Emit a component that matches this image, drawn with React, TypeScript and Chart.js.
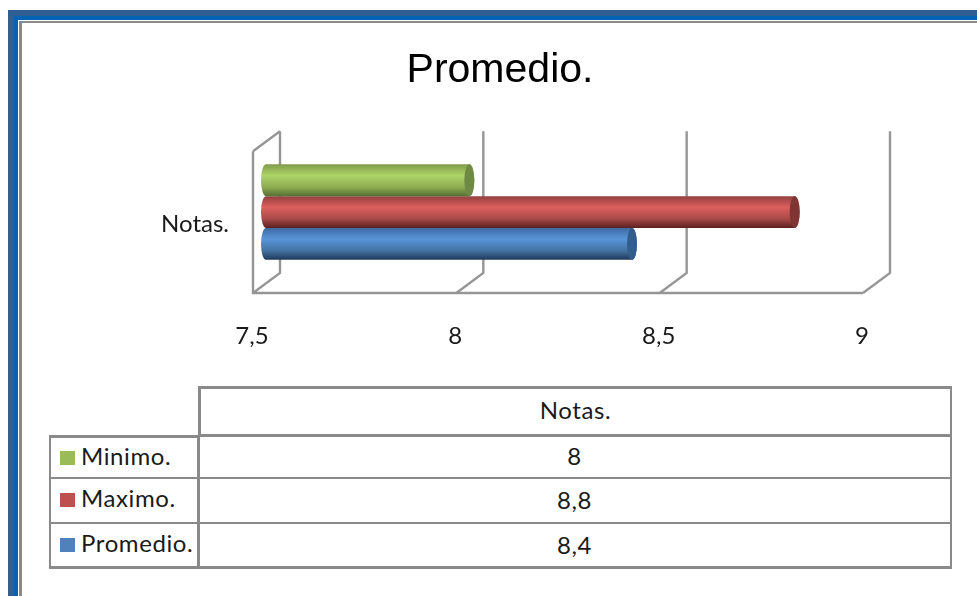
import React, { useEffect, useRef } from "react";
import { Chart, registerables } from "chart.js";

Chart.register(...registerables);

const titleText = "Promedio.";
const categories = ["Notas."];
const seriesNames = ["Minimo.", "Maximo.", "Promedio."];
const minimoValues = [8];
const maximoValues = [8.8];
const promedioValues = [8.4];
const seriesColors = ["#9bbb59", "#c0504d", "#4f81bd"];
const tickValues = [7.5, 8, 8.5, 9];

const FONT = "Lato";
const GRID = "#969696";
const fmt = (v: number) => String(v).replace(".", ",");

const shades: string[][] = [
  ["#7f9c4b", "#aed467", "#8dac50", "#566f35", "#6f8a45"],
  ["#93403e", "#dd5f5d", "#a84a48", "#5a2020", "#7f3533"],
  ["#3d6ba2", "#5a95da", "#41719f", "#20385a", "#335d8d"],
];

const DEPTH_X = 27;
const DEPTH_Y = 20;
const BAR_SHIFT = 13;
const CAP_RX = 5;

const wallsPlugin = {
  id: "walls",
  beforeDatasetsDraw(chart: any) {
    const { ctx, chartArea, scales } = chart;
    const { top, bottom } = chartArea;
    ctx.save();
    ctx.strokeStyle = GRID;
    ctx.lineWidth = 2.4;
    const left = scales.x.getPixelForValue(tickValues[0]);
    const right = scales.x.getPixelForValue(tickValues[tickValues.length - 1]);
    ctx.beginPath();
    ctx.moveTo(left, top + DEPTH_Y);
    ctx.lineTo(left, bottom);
    ctx.lineTo(right, bottom);
    ctx.moveTo(left, top + DEPTH_Y);
    ctx.lineTo(left + DEPTH_X, top);
    ctx.stroke();
    tickValues.forEach((v) => {
      const x = scales.x.getPixelForValue(v);
      ctx.beginPath();
      ctx.moveTo(x, bottom);
      ctx.lineTo(x + DEPTH_X, bottom - DEPTH_Y);
      ctx.lineTo(x + DEPTH_X, top);
      ctx.stroke();
    });
    ctx.restore();
  },
};

const cylinderPlugin = {
  id: "cylinder",
  beforeDatasetDraw(chart: any, args: any) {
    const { ctx, scales } = chart;
    const bar = args.meta.data[0];
    const s = shades[args.index];
    const x0 = scales.x.getPixelForValue(tickValues[0]) + BAR_SHIFT;
    const x1 = bar.x + BAR_SHIFT;
    const h = bar.height;
    const t = bar.y - h / 2;
    const b = bar.y + h / 2;
    const g = ctx.createLinearGradient(0, t, 0, b);
    g.addColorStop(0, s[0]);
    g.addColorStop(0.35, s[1]);
    g.addColorStop(0.72, s[2]);
    g.addColorStop(1, s[3]);
    ctx.save();
    ctx.fillStyle = g;
    ctx.beginPath();
    ctx.ellipse(x0, bar.y, CAP_RX, h / 2, 0, Math.PI / 2, (3 * Math.PI) / 2);
    ctx.lineTo(x1, t);
    ctx.ellipse(x1, bar.y, CAP_RX, h / 2, 0, -Math.PI / 2, Math.PI / 2);
    ctx.closePath();
    ctx.fill();
    ctx.fillStyle = s[4];
    ctx.beginPath();
    ctx.ellipse(x1, bar.y, CAP_RX, h / 2, 0, 0, Math.PI * 2);
    ctx.fill();
    ctx.restore();
    return false;
  },
};

const box = (style: React.CSSProperties): React.CSSProperties => ({
  position: "absolute",
  boxSizing: "border-box",
  ...style,
});

const LINE = "3px solid #8a8a8a";
const THIN = "2px solid #8a8a8a";
const tableRows = [
  { name: seriesNames[0], color: seriesColors[0], value: minimoValues[0] },
  { name: seriesNames[1], color: seriesColors[1], value: maximoValues[0] },
  { name: seriesNames[2], color: seriesColors[2], value: promedioValues[0] },
];
const rowTops = [435, 478, 523];
const rowHeights = [44, 46, 46];

export default function App() {
  const ref = useRef<HTMLCanvasElement>(null);
  useEffect(() => {
    const chart = new Chart(ref.current!, {
      type: "bar",
      data: {
        labels: categories,
        datasets: [minimoValues, maximoValues, promedioValues].map((data, i) => ({
          label: seriesNames[i],
          data,
          backgroundColor: seriesColors[i],
          barPercentage: 1,
          categoryPercentage: 0.59,
        })),
      },
      options: {
        indexAxis: "y",
        animation: false,
        responsive: false,
        layout: { padding: { left: 114, right: 114, top: 0, bottom: 0 } },
        plugins: {
          legend: { display: false },
          tooltip: { enabled: false },
          title: {
            display: true,
            text: titleText,
            color: "#000000",
            font: { family: "Liberation Sans", size: 41, weight: "normal" },
            padding: { top: 46, bottom: 36 },
          },
        },
        scales: {
          x: {
            min: tickValues[0],
            max: tickValues[tickValues.length - 1],
            afterBuildTicks: (axis: any) => {
              axis.ticks = tickValues.map((value) => ({ value }));
            },
            afterFit: (axis: any) => {
              axis.height = 77;
            },
            grid: { display: false },
            border: { display: false },
            ticks: {
              callback: (v: any) => fmt(Number(v)),
              color: "#1a1a1a",
              font: { family: FONT, size: 24 },
              padding: 21,
              labelOffset: -1,
              maxRotation: 0,
              autoSkip: false,
            },
          },
          y: {
            afterFit: (axis: any) => {
              axis.width = 116;
            },
            grid: { display: false },
            border: { display: false },
            ticks: {
              color: "#1a1a1a",
              font: { family: FONT, size: 24 },
              padding: 16,
              labelOffset: 12,
            },
          },
        },
      },
      plugins: [wallsPlugin, cylinderPlugin],
    } as any);
    return () => chart.destroy();
  }, []);

  const text: React.CSSProperties = { fontFamily: FONT, fontSize: 24, letterSpacing: 0.6, color: "#1a1a1a", lineHeight: 1 };

  return (
    <div style={box({ left: 0, top: 0, width: 977, height: 596, overflow: "hidden", background: "#fff" })}>
      <div style={box({ left: 8, top: 10, width: 1000, height: 620, background: "#2f5f93" })} />
      <div style={box({ left: 14, top: 16, width: 1000, height: 620, background: "#0563b5" })} />
      <div style={box({ left: 18, top: 20, width: 1000, height: 620, background: "#fff" })} />
      <div style={box({ left: 19, top: 21, width: 1000, height: 620, background: "#8a8a8a" })} />
      <div style={box({ left: 22, top: 23, width: 1000, height: 620, background: "#fff" })} />
      <canvas ref={ref} width={954} height={370} style={{ position: "absolute", left: 23, top: 0, display: "block" }} />

      <div style={box({ left: 198, top: 386, width: 754, height: 51, paddingBottom: 4, borderTop: LINE, borderLeft: LINE, borderRight: THIN, borderBottom: LINE, display: "flex", alignItems: "center", justifyContent: "center", ...text })}>
        {categories[0]}
      </div>
      {tableRows.map((r, i) => (
        <React.Fragment key={r.name}>
          <div style={box({ left: 49, top: rowTops[i], width: 151, height: rowHeights[i], borderLeft: THIN, borderBottom: i === 2 ? LINE : THIN, borderTop: i === 0 ? LINE : "none", borderRight: LINE, display: "flex", alignItems: "center", ...text })}>
            <span style={{ width: 15, height: 14, marginLeft: 9, marginRight: 6, background: r.color, flex: "none" }} />
            <span style={{ whiteSpace: "nowrap", position: "relative", top: -2 }}>{r.name}</span>
          </div>
          <div style={box({ left: 199, top: rowTops[i], width: 753, height: rowHeights[i], borderRight: THIN, borderBottom: i === 2 ? LINE : THIN, display: "flex", alignItems: "center", justifyContent: "center", ...text })}>
            {fmt(r.value)}
          </div>
        </React.Fragment>
      ))}
    </div>
  );
}
